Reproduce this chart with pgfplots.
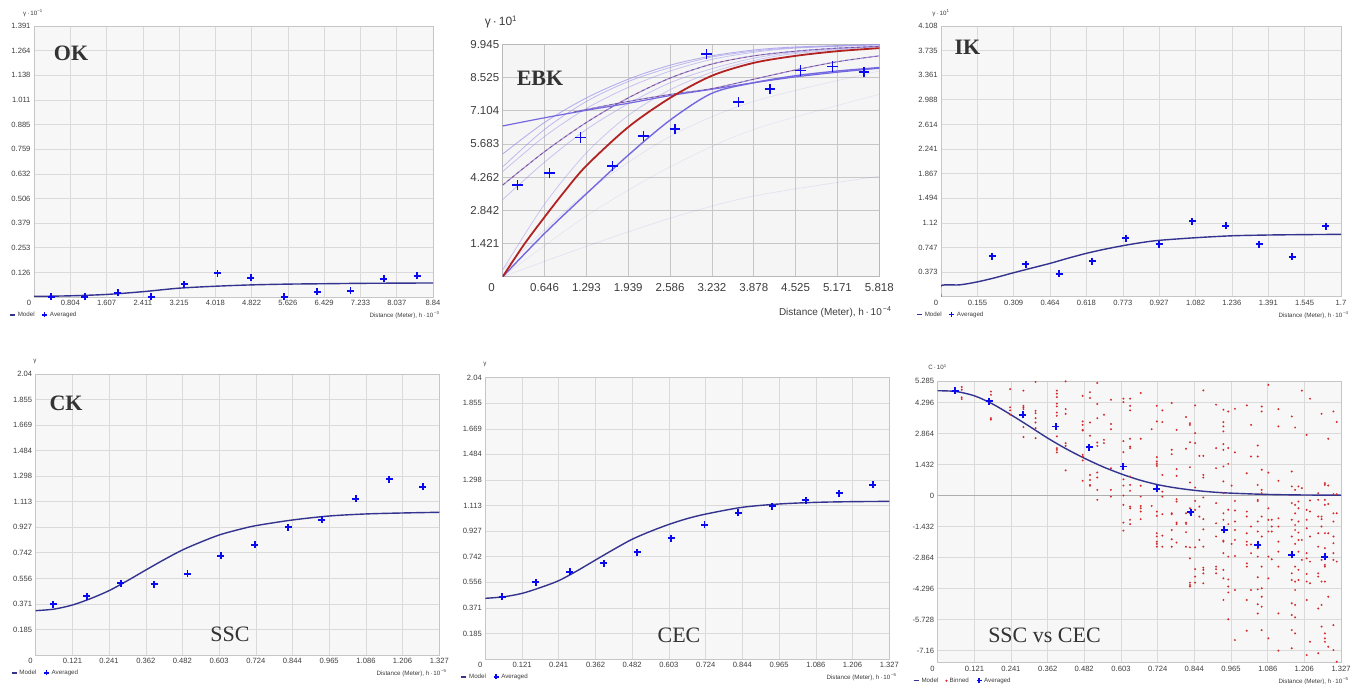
\documentclass[border=0pt]{standalone}
\usepackage{fontspec}
\setmainfont{Liberation Sans}
\newfontfamily\seriffont{Liberation Serif}
\usepackage{pgfplots}
\pgfplotsset{compat=1.18}
\definecolor{bgc}{HTML}{F7F7F7}
\definecolor{gridc}{HTML}{DADADA}
\definecolor{bordc}{HTML}{C6C6C6}
\definecolor{tickc}{HTML}{3C3C3C}
\definecolor{modelc}{HTML}{34338F}
\definecolor{avgc}{HTML}{0A0AF0}
\definecolor{binc}{HTML}{D42A2A}
\definecolor{ebkred}{HTML}{B22222}
\definecolor{ebkblue}{HTML}{7468E0}
\definecolor{ebkdash}{HTML}{8E4B6E}
\definecolor{ebklight}{HTML}{9A90EA}
\definecolor{titlec}{HTML}{333333}
\pgfdeclareplotmark{bplus}{%
  \pgfsetstrokecolor{avgc}%
  \pgfpathmoveto{\pgfqpoint{-\pgfplotmarksize}{0pt}}%
  \pgfpathlineto{\pgfqpoint{\pgfplotmarksize}{0pt}}%
  \pgfpathmoveto{\pgfqpoint{0pt}{-\pgfplotmarksize}}%
  \pgfpathlineto{\pgfqpoint{0pt}{\pgfplotmarksize}}%
  \pgfusepathqstroke}
\pgfdeclareplotmark{rdot}{%
  \pgfsetfillcolor{binc}%
  \pgfpathcircle{\pgfpointorigin}{\pgfplotmarksize}%
  \pgfusepathqfill}
\pgfplotsset{
  panel/.style={scale only axis, anchor=south west,
    axis background/.style={fill=bgc},
    grid=major, major grid style={draw=gridc, line width=0.6pt},
    axis line style={draw=bordc, line width=0.9pt},
    major tick length=0pt, tick style={draw=none},
    ticklabel style={font=\fontsize{7.6}{8}\selectfont, text=tickc},
    clip mode=individual,
    legend style={at={(0,0)}, anchor=west, xshift=-25pt, yshift=-18pt,
      draw=none, fill=none, font=\fontsize{6.2}{7}\selectfont, text=tickc,
      legend columns=-1, inner sep=0pt,
      /tikz/every even column/.append style={column sep=5pt}},
  },
  modelplot/.style={color=modelc, line width=1.4pt, smooth, no marks,
    legend image code/.code={\draw[modelc,line width=1.6pt] (0pt,0pt)--(5pt,0pt);}},
  avgplot/.style={color=avgc, only marks, mark=bplus, mark size=3.5pt,
    mark options={color=avgc, solid, line width=1.9pt},
    legend image code/.code={\draw[avgc,line width=1.3pt] (0pt,0pt)--(5pt,0pt) (2.5pt,-2.5pt)--(2.5pt,2.5pt);}},
  binplot/.style={color=binc, only marks, mark=rdot, mark size=1.1pt,
    mark options={color=binc},
    legend image code/.code={\fill[binc] (2.4pt,0pt) circle (0.9pt);}},
}
\newcommand{\smallx}{\fontsize{6.2}{7}\selectfont\color{tickc}}
\newcommand{\ttl}{\seriffont\fontsize{22}{22}\selectfont\color{titlec}}
\begin{document}
\begin{tikzpicture}
\useasboundingbox (0,0) rectangle (1362pt,684pt);

% ---------------- OK ----------------
\begin{axis}[panel, at={(34pt,387pt)}, width=399pt, height=271pt,
  xmin=0, xmax=8.84, ymin=0, ymax=1.391,
  xtick={0,0.804,1.607,2.411,3.215,4.018,4.822,5.626,6.429,7.233,8.037,8.84},
  xticklabels={\llap{0\hspace{3pt}},0.804,1.607,2.411,3.215,4.018,4.822,5.626,6.429,7.233,8.037,8.84},
  ytick={0.126,0.253,0.379,0.506,0.632,0.759,0.885,1.011,1.138,1.264,1.391},
  yticklabels={0.126,0.253,0.379,0.506,0.632,0.759,0.885,1.011,1.138,1.264,1.391}]
\addplot[modelplot] coordinates {(0,0.003)(0.8,0.006)(1.6,0.013)(2.4,0.027)(3.2,0.045)(4.0,0.055)(4.8,0.062)(5.6,0.066)(6.4,0.068)(7.2,0.070)(8.0,0.071)(8.84,0.072)};
\addlegendentry{Model}
\addplot[avgplot] coordinates {(0.383,0.002)(1.120,0.002)(1.856,0.022)(2.593,0.002)(3.330,0.065)(4.066,0.123)(4.803,0.098)(5.540,0.002)(6.276,0.026)(7.013,0.033)(7.750,0.094)(8.486,0.108)};
\addlegendentry{Averaged}
\end{axis}
\node[font=\smallx] at (33pt,671pt) {γ\,·\,10\textsuperscript{−1}};
\node[anchor=east, font=\smallx] at (443pt,369pt) {Distance (Meter), h\,·\,10\textsuperscript{\,−3}};
\node[font=\ttl\bfseries] at (71pt,630.5pt) {OK};

% ---------------- EBK ----------------
\begin{axis}[panel, at={(502.7pt,407.3pt)}, width=376.6pt, height=232.4pt,
  xmin=0, xmax=5.818, ymin=0, ymax=9.945, clip mode=global,
  axis background/.style={fill=black!4},
  major grid style={draw=black!22, line width=0.7pt},
  axis line style={draw=black!28, line width=0.9pt},
  ticklabel style={font=\fontsize{11.5}{12}\selectfont, text=tickc},
  xticklabel style={yshift=-3pt},
  xtick={0,0.6464,1.2929,1.9393,2.5858,3.2322,3.8787,4.5251,5.1716,5.818},
  xticklabels={\llap{0\hspace{8pt}},0.646,1.293,1.939,2.586,3.232,3.878,4.525,5.171,5.818},
  ytick={1.4207,2.8414,4.2621,5.6829,7.1036,8.5243,9.945},
  yticklabels={1.421,2.842,4.262,5.683,7.104,8.525,9.945}]
\addplot[ebkblue, opacity=0.15, line width=0.6pt, smooth] coordinates {(0,0)(1.293,1.3)(2.586,2.5)(3.878,3.45)(5.818,4.3)};
\addplot[ebkblue, opacity=0.12, line width=0.6pt, smooth] coordinates {(0,0)(1.293,2.6)(2.586,4.7)(3.878,6.3)(5.818,7.8)};
\addplot[ebkblue, opacity=0.15, line width=0.6pt, smooth] coordinates {(0,0.3)(1.293,3.6)(2.586,6.0)(3.878,7.5)(5.818,8.8)};
\addplot[ebklight, opacity=0.45, line width=0.8pt, smooth] coordinates {(0,0.3)(0.646,3.1)(1.293,5.3)(1.939,6.9)(2.586,8.0)(3.232,8.75)(3.878,9.25)(4.525,9.55)(5.818,9.85)};
\addplot[ebklight, opacity=0.5, line width=0.8pt, smooth] coordinates {(0,3.3)(0.646,4.9)(1.293,6.3)(1.939,7.4)(2.586,8.3)(3.232,8.9)(3.878,9.35)(4.525,9.6)(5.818,9.88)};
\addplot[ebklight, opacity=0.5, line width=0.8pt, smooth] coordinates {(0,4.5)(0.646,6.0)(1.293,7.2)(1.939,8.1)(2.586,8.8)(3.232,9.3)(3.878,9.6)(4.525,9.78)(5.818,9.92)};
\addplot[ebklight, opacity=0.6, line width=0.8pt, smooth] coordinates {(0,4.7)(0.646,6.3)(1.293,7.5)(1.939,8.35)(2.586,8.95)(3.232,9.4)(3.878,9.65)(4.525,9.8)(5.818,9.93)};
\addplot[ebklight, opacity=0.7, line width=0.9pt, smooth] coordinates {(0,5.25)(0.646,6.6)(1.293,7.65)(1.939,8.45)(2.586,9.05)(3.232,9.45)(3.878,9.7)(4.525,9.83)(5.818,9.94)};
\addplot[ebkblue, opacity=0.7, line width=1.1pt, smooth] coordinates {(0,3.92)(0.646,5.35)(1.293,6.6)(1.939,7.65)(2.586,8.5)(3.232,9.1)(3.878,9.45)(4.525,9.65)(5.171,9.78)(5.818,9.85)};
\addplot[ebkdash, line width=0.7pt, dashed, smooth] coordinates {(0,3.92)(0.646,5.35)(1.293,6.6)(1.939,7.65)(2.586,8.5)(3.232,9.1)(3.878,9.45)(4.525,9.65)(5.171,9.78)(5.818,9.85)};
\addplot[ebkblue, opacity=0.7, line width=1.1pt, smooth] coordinates {(1.1,7.05)(1.939,7.5)(2.586,7.8)(3.232,8.05)(3.878,8.45)(4.525,8.85)(5.171,9.2)(5.818,9.45)};
\addplot[ebkdash, line width=0.7pt, dashed, smooth] coordinates {(1.1,7.05)(1.939,7.5)(2.586,7.8)(3.232,8.05)(3.878,8.45)(4.525,8.85)(5.171,9.2)(5.818,9.45)};
\addplot[ebkblue, line width=1.2pt, smooth] coordinates {(0,6.45)(0.646,6.8)(1.293,7.12)(1.939,7.42)(2.586,7.75)(3.232,8.02)(3.878,8.3)(4.525,8.55)(5.171,8.75)(5.818,8.92)};
\addplot[ebkblue, line width=1.4pt, smooth] coordinates {(0,0)(0.646,1.85)(1.293,3.55)(1.939,5.2)(2.586,6.7)(3.232,7.85)(3.878,8.3)(4.525,8.6)(5.171,8.8)(5.818,8.95)};
\addplot[ebkred, line width=1.8pt, smooth] coordinates {(0,0)(0.323,1.35)(0.646,2.55)(0.97,3.7)(1.293,4.75)(1.939,6.4)(2.586,7.65)(3.232,8.6)(3.878,9.15)(4.525,9.45)(5.171,9.65)(5.818,9.78)};
\addplot[color=avgc, only marks, mark=bplus, mark size=5.3pt, mark options={color=avgc, solid, line width=1.4pt}] coordinates {(0.232,3.924)(0.726,4.43)(1.205,5.964)(1.694,4.737)(2.173,6.021)(2.662,6.321)(3.151,9.531)(3.640,7.477)(4.129,8.033)(4.603,8.818)(5.092,8.989)(5.581,8.761)};
\end{axis}
\node[font=\fontsize{12}{12}\selectfont\color{tickc}] at (501pt,662pt) {γ\,·\,10\textsuperscript{1}};
\node[anchor=east, font=\fontsize{10}{11}\selectfont\color{tickc}] at (895pt,372pt) {Distance (Meter), h\,·\,10\textsuperscript{\,−4}};
\node[font=\ttl\bfseries] at (540pt,606pt) {EBK};

% ---------------- IK ----------------
\begin{axis}[panel, at={(941pt,387.3pt)}, width=400pt, height=270.7pt,
  xmin=0, xmax=1.7, ymin=0, ymax=4.108,
  xtick={0,0.155,0.309,0.464,0.618,0.773,0.927,1.082,1.236,1.391,1.545,1.7},
  xticklabels={\llap{0\hspace{3pt}},0.155,0.309,0.464,0.618,0.773,0.927,1.082,1.236,1.391,1.545,1.7},
  ytick={0.373,0.747,1.12,1.494,1.867,2.241,2.614,2.988,3.361,3.735,4.108},
  yticklabels={0.373,0.747,1.12,1.494,1.867,2.241,2.614,2.988,3.361,3.735,4.108}]
\addplot[modelplot] coordinates {(0,0)(0,0.167)(0.08,0.18)(0.155,0.225)(0.232,0.29)(0.309,0.364)(0.386,0.435)(0.464,0.506)(0.541,0.585)(0.618,0.658)(0.695,0.72)(0.773,0.774)(0.85,0.82)(0.927,0.855)(1.082,0.895)(1.236,0.924)(1.391,0.936)(1.545,0.942)(1.7,0.946)};
\addlegendentry{Model}
\addplot[avgplot] coordinates {(0.0765,-0.01)(0.218,0.617)(0.360,0.491)(0.502,0.349)(0.643,0.541)(0.785,0.885)(0.927,0.794)(1.068,1.148)(1.210,1.078)(1.352,0.794)(1.493,0.607)(1.635,1.067)};
\addlegendentry{Averaged}
\end{axis}
\node[font=\smallx] at (941pt,671pt) {γ\,·\,10\textsuperscript{1}};
\node[anchor=east, font=\smallx] at (1352pt,369pt) {Distance (Meter), h\,·\,10\textsuperscript{\,−4}};
\node[font=\ttl\bfseries] at (967.5pt,636.5pt) {IK};

% ---------------- CK (SSC) ----------------
\begin{axis}[panel, at={(35.7pt,29pt)}, width=403.6pt, height=281pt,
  xmin=0, xmax=1.327, ymin=0, ymax=2.04,
  xtick={0,0.121,0.241,0.362,0.482,0.603,0.724,0.844,0.965,1.086,1.206,1.327},
  xticklabels={\llap{0\hspace{3pt}},0.121,0.241,0.362,0.482,0.603,0.724,0.844,0.965,1.086,1.206,1.327},
  ytick={0.185,0.371,0.556,0.742,0.927,1.113,1.298,1.484,1.669,1.855,2.04},
  yticklabels={0.185,0.371,0.556,0.742,0.927,1.113,1.298,1.484,1.669,1.855,2.04}]
\addplot[modelplot] coordinates {(0,0.322)(0.06,0.333)(0.121,0.363)(0.181,0.41)(0.241,0.467)(0.302,0.54)(0.362,0.617)(0.422,0.692)(0.482,0.762)(0.543,0.82)(0.603,0.871)(0.663,0.908)(0.724,0.939)(0.844,0.980)(0.965,1.009)(1.086,1.024)(1.206,1.031)(1.327,1.036)};
\addlegendentry{Model}
\addplot[avgplot] coordinates {(0.058,0.370)(0.168,0.428)(0.279,0.520)(0.389,0.513)(0.499,0.590)(0.608,0.719)(0.720,0.801)(0.831,0.929)(0.940,0.982)(1.052,1.135)(1.162,1.275)(1.272,1.222)};
\addlegendentry{Averaged}
\end{axis}
\node[font=\smallx] at (35pt,322pt) {γ};
\node[anchor=east, font=\smallx] at (450pt,11pt) {Distance (Meter), h\,·\,10\textsuperscript{\,−5}};
\node[font=\ttl\bfseries] at (66pt,281pt) {CK};
\node[font=\ttl] at (230pt,50pt) {SSC};

% ---------------- CEC ----------------
\begin{axis}[panel, at={(485.3pt,25pt)}, width=404pt, height=281.3pt,
  xmin=0, xmax=1.327, ymin=0, ymax=2.04,
  xtick={0,0.121,0.241,0.362,0.482,0.603,0.724,0.844,0.965,1.086,1.206,1.327},
  xticklabels={\llap{0\hspace{3pt}},0.121,0.241,0.362,0.482,0.603,0.724,0.844,0.965,1.086,1.206,1.327},
  ytick={0.185,0.371,0.556,0.742,0.927,1.113,1.298,1.484,1.669,1.855,2.04},
  yticklabels={0.185,0.371,0.556,0.742,0.927,1.113,1.298,1.484,1.669,1.855,2.04}]
\addplot[modelplot] coordinates {(0,0.440)(0.06,0.451)(0.121,0.476)(0.181,0.518)(0.241,0.568)(0.302,0.64)(0.362,0.718)(0.422,0.795)(0.482,0.868)(0.543,0.926)(0.603,0.976)(0.663,1.018)(0.724,1.051)(0.844,1.100)(0.965,1.124)(1.086,1.136)(1.206,1.141)(1.327,1.143)};
\addlegendentry{Model}
\addplot[avgplot] coordinates {(0.0558,0.452)(0.166,0.558)(0.278,0.631)(0.389,0.696)(0.499,0.773)(0.610,0.877)(0.720,0.972)(0.831,1.061)(0.942,1.109)(1.053,1.151)(1.163,1.201)(1.273,1.262)};
\addlegendentry{Averaged}
\end{axis}
\node[font=\smallx] at (485pt,319pt) {γ};
\node[anchor=east, font=\smallx] at (900pt,7pt) {Distance (Meter), h\,·\,10\textsuperscript{\,−5}};
\node[font=\ttl] at (679pt,49pt) {CEC};

% ---------------- SSC vs CEC ----------------
\begin{axis}[panel, at={(937.7pt,21.3pt)}, width=403.3pt, height=281.7pt,
  xmin=0, xmax=1.327, ymin=-7.714, ymax=5.285,
  xtick={0,0.121,0.241,0.362,0.482,0.603,0.724,0.844,0.965,1.086,1.206,1.327},
  xticklabels={\llap{0\hspace{3pt}},0.121,0.241,0.362,0.482,0.603,0.724,0.844,0.965,1.086,1.206,1.327},
  ytick={-7.16,-5.728,-4.296,-2.864,-1.432,0,1.432,2.864,4.296,5.285},
  yticklabels={-7.16,-5.728,-4.296,-2.864,-1.432,0,1.432,2.864,4.296,5.285},
  extra y ticks={0}, extra y tick labels={},
  extra y tick style={grid=major, major grid style={draw=black!32, line width=1pt}}]
\addplot[modelplot] coordinates {(0,4.835)(0.06,4.80)(0.121,4.60)(0.181,4.22)(0.241,3.726)(0.302,3.19)(0.362,2.648)(0.422,2.16)(0.482,1.725)(0.543,1.33)(0.603,1.0)(0.663,0.72)(0.724,0.50)(0.784,0.35)(0.844,0.24)(0.905,0.16)(0.965,0.11)(1.086,0.05)(1.206,0.025)(1.327,0.015)};
\addlegendentry{Model}
\addplot[binplot] coordinates {
(0.079,5.01)(0.079,4.88)(0.079,4.53)(0.079,4.45)
(0.175,4.80)(0.175,4.65)(0.175,4.37)(0.175,3.57)(0.175,3.50)
(0.238,4.91)(0.238,4.07)(0.238,3.93)(0.238,3.73)
(0.282,4.84)(0.282,4.14)(0.282,4.07)(0.282,3.99)(0.282,3.16)(0.282,2.70)
(0.322,5.24)(0.322,3.91)(0.322,3.80)(0.322,3.57)(0.322,3.37)(0.322,3.11)(0.322,2.65)
(0.392,4.84)(0.392,4.70)(0.392,4.54)(0.392,4.24)(0.392,4.11)(0.392,3.83)(0.392,3.68)(0.392,2.73)(0.392,2.19)(0.392,2.11)(0.392,1.99)
(0.421,5.27)(0.421,3.99)(0.421,3.77)(0.421,2.42)(0.421,2.29)(0.421,1.16)
(0.477,4.60)(0.477,3.42)(0.477,3.26)(0.477,3.03)(0.477,3.00)(0.477,1.88)(0.477,1.80)(0.477,1.62)(0.477,0.68)
(0.501,4.77)(0.501,4.50)(0.501,3.37)(0.501,2.76)(0.501,0.95)(0.501,0.72)(0.501,0.49)(0.501,0.45)
(0.525,5.19)(0.525,4.22)(0.525,3.57)(0.525,2.45)(0.525,2.29)(0.525,1.06)(0.525,0.83)(0.525,0.26)(0.525,-0.20)
(0.547,3.73)(0.547,2.57)(0.547,2.42)
(0.570,4.42)(0.570,3.30)(0.570,3.06)(0.570,1.26)(0.570,0.26)(0.570,-0.05)
(0.611,4.47)(0.611,4.31)(0.611,2.51)(0.611,2.00)(0.611,0.75)(0.611,0.46)(0.611,0)(0.611,-0.43)(0.611,-1.25)(0.611,-1.62)
(0.633,4.47)(0.633,4.14)(0.633,3.93)(0.633,2.62)(0.633,2.26)(0.633,2.19)(0.633,0.88)(0.633,0.49)(0.633,0.22)(0.633,-0.51)(0.633,-0.59)(0.633,-1.12)(0.633,-1.32)
(0.668,4.73)(0.668,2.62)(0.668,0.45)(0.668,-0.05)(0.668,-0.48)(0.668,-0.59)(0.668,-0.74)(0.668,-1.09)
(0.704,3.06)(0.704,-0.48)
(0.721,4.14)(0.721,3.42)(0.721,1.77)(0.721,1.57)(0.721,1.46)(0.721,1.37)(0.721,0.34)(0.721,-0.74)(0.721,-0.94)(0.721,-1.74)(0.721,-1.89)(0.721,-2.13)(0.721,-2.23)(0.721,-2.36)
(0.739,3.93)(0.739,3.39)(0.739,0.95)(0.739,0.18)(0.739,-0.05)(0.739,-0.86)(0.739,-1.85)(0.739,-2.36)
(0.770,4.27)(0.770,2.11)(0.770,1.91)(0.770,-0.82)(0.770,-0.86)(0.770,-1.59)(0.770,-2.02)(0.770,-2.36)
(0.786,3.03)(0.786,1.22)(0.786,0.91)(0.786,-0.17)(0.786,-0.28)(0.786,-1.25)(0.786,-1.32)(0.786,-2.17)
(0.817,3.62)(0.817,2.16)(0.817,-0.82)(0.817,-1.25)(0.817,-1.31)(0.817,-1.69)(0.817,-2.36)
(0.830,3.34)(0.830,3.26)(0.830,2.46)(0.830,1.31)(0.830,0.60)(0.830,-0.59)(0.830,-0.82)(0.830,-2.39)(0.830,-2.90)(0.830,-4.02)(0.830,-4.13)(0.830,-4.20)
(0.847,4.16)(0.847,2.88)(0.847,2.42)(0.847,0.37)(0.847,-0.25)(0.847,-0.66)(0.847,-2.39)(0.847,-3.40)(0.847,-3.74)(0.847,-4.02)
(0.861,1.83)(0.861,-0.51)(0.861,-0.97)(0.861,-2.05)
(0.874,4.85)(0.874,1.83)(0.874,0.95)(0.874,0.83)(0.874,-0.09)(0.874,-1.09)(0.874,-1.56)(0.874,-2.36)(0.874,-3.33)(0.874,-3.43)(0.874,-3.59)(0.874,-4.05)
(0.916,4.19)(0.916,2.19)(0.916,1.26)(0.916,-0.35)(0.916,-1.28)(0.916,-1.89)(0.916,-3.28)(0.916,-3.40)(0.916,-3.59)
(0.940,3.96)(0.940,3.39)(0.940,3.19)(0.940,2.96)(0.940,2.37)(0.940,2.11)(0.940,1.34)(0.940,0.65)(0.940,0.11)(0.940,-0.82)(0.940,-1.12)(0.940,-2.08)(0.940,-2.13)(0.940,-2.66)(0.940,-3.43)(0.940,-3.82)(0.940,-4.82)
(0.956,3.88)(0.956,2.19)(0.956,1.46)(0.956,-0.66)(0.956,-1.32)(0.956,-2.82)(0.956,-3.87)(0.956,-4.20)(0.956,-4.47)(0.956,-5.71)
(0.967,0.46)(0.967,-2.23)
(0.978,4.00)(0.978,1.99)(0.978,-0.25)(0.978,-0.69)(0.978,-1.20)(0.978,-1.59)(0.978,-2.05)(0.978,-2.79)(0.978,-4.36)(0.978,-6.67)
(1.017,4.16)(1.017,1.03)(1.017,-0.74)(1.017,-0.97)(1.017,-1.74)(1.017,-2.13)(1.017,-2.28)(1.017,-3.13)(1.017,-3.28)(1.017,-4.82)(1.017,-6.24)
(1.031,3.26)(1.031,1.80)(1.031,-1.43)(1.031,-2.26)(1.031,-2.66)(1.031,-4.36)
(1.053,2.31)(1.053,1.80)(1.053,0.49)(1.053,-0.20)(1.053,-0.25)(1.053,-1.20)(1.053,-1.66)(1.053,-2.43)(1.053,-2.82)(1.053,-3.77)(1.053,-4.33)(1.053,-5.02)(1.053,-5.44)
(1.066,4.11)(1.066,3.88)(1.066,1.19)(1.066,0.26)(1.066,0.11)(1.066,-0.97)(1.066,-1.89)(1.066,-3.28)(1.066,-4.28)(1.066,-4.67)(1.066,-5.13)(1.066,-6.21)
(1.088,5.11)(1.088,1.06)(1.088,-0.59)(1.088,-1.12)(1.088,-1.66)(1.088,-2.82)(1.088,-3.82)(1.088,-6.59)
(1.099,-1.12)(1.099,-1.43)(1.099,-1.66)(1.099,-2.94)
(1.121,3.99)(1.121,3.19)(1.121,0.68)(1.121,-1.05)(1.121,-1.43)(1.121,-2.13)(1.121,-2.59)(1.121,-3.28)(1.121,-5.44)(1.121,-7.16)
(1.165,3.65)(1.165,1.11)(1.165,0.42)(1.165,-0.35)(1.165,-1.12)(1.165,-1.89)(1.165,-2.66)(1.165,-3.59)(1.165,-3.90)(1.165,-4.97)(1.165,-5.51)(1.165,-6.21)(1.165,-7.05)
(1.176,3.14)(1.176,0.26)(1.176,-0.43)(1.176,-0.82)(1.176,-1.36)(1.176,-1.59)(1.176,-2.23)(1.176,-3.28)(1.176,-3.97)(1.176,-4.36)(1.176,-5.05)(1.176,-5.62)(1.176,-6.36)
(1.187,0.42)(1.187,-0.28)(1.187,-0.59)(1.187,-1.20)(1.187,-1.71)(1.187,-2.05)(1.187,-2.59)(1.187,-3.43)(1.187,-3.90)
(1.198,4.84)(1.198,0.34)(1.198,-2.05)(1.198,-2.97)
(1.214,2.80)(1.214,-0.66)(1.214,-1.12)(1.214,-1.51)(1.214,-2.66)(1.214,-2.90)(1.214,-3.62)(1.214,-3.97)(1.214,-4.82)(1.214,-7.36)
(1.225,4.47)(1.225,-0.23)(1.225,-0.74)(1.225,-1.89)(1.225,-3.05)(1.225,-4.05)(1.225,-6.75)
(1.252,0.11)(1.252,-0.20)(1.252,-0.97)(1.252,-1.74)(1.252,-2.36)(1.252,-3.59)(1.252,-3.74)(1.252,-5.21)(1.252,-7.28)
(1.263,3.77)(1.263,-0.97)(1.263,-1.09)(1.263,-1.43)(1.263,-2.97)(1.263,-3.97)(1.263,-5.05)(1.263,-6.05)
(1.274,0.57)(1.274,0.49)(1.274,-0.20)(1.274,-0.43)(1.274,-1.74)(1.274,-2.43)(1.274,-3.20)(1.274,-3.28)(1.274,-3.97)(1.274,-6.36)(1.274,-6.59)(1.274,-6.75)
(1.285,2.62)(1.285,0.46)(1.285,-0.39)(1.285,-1.74)(1.285,-4.67)(1.285,-6.98)
(1.302,3.88)(1.302,0.06)(1.302,-0.82)(1.302,-1.20)(1.302,-1.89)(1.302,-2.20)(1.302,-2.66)(1.302,-2.97)(1.302,-5.98)(1.302,-7.13)
(1.313,3.39)(1.313,0.06)(1.313,-0.82)(1.313,-3.05)(1.313,-7.67)};
\addlegendentry{Binned}
\addplot[avgplot] coordinates {(0.057,4.835)(0.170,4.358)(0.280,3.726)(0.389,3.187)(0.499,2.233)(0.611,1.340)(0.721,0.308)(0.832,-0.770)(0.942,-1.586)(1.053,-2.279)(1.165,-2.741)(1.274,-2.833)};
\addlegendentry{Averaged}
\end{axis}
\node[font=\smallx] at (937.5pt,317pt) {C\,·\,10\textsuperscript{1}};
\node[anchor=east, font=\smallx] at (1352pt,3pt) {Distance (Meter), h\,·\,10\textsuperscript{\,−5}};
\node[font=\ttl] at (1044.5pt,49pt) {SSC vs CEC};
\end{tikzpicture}
\end{document}
